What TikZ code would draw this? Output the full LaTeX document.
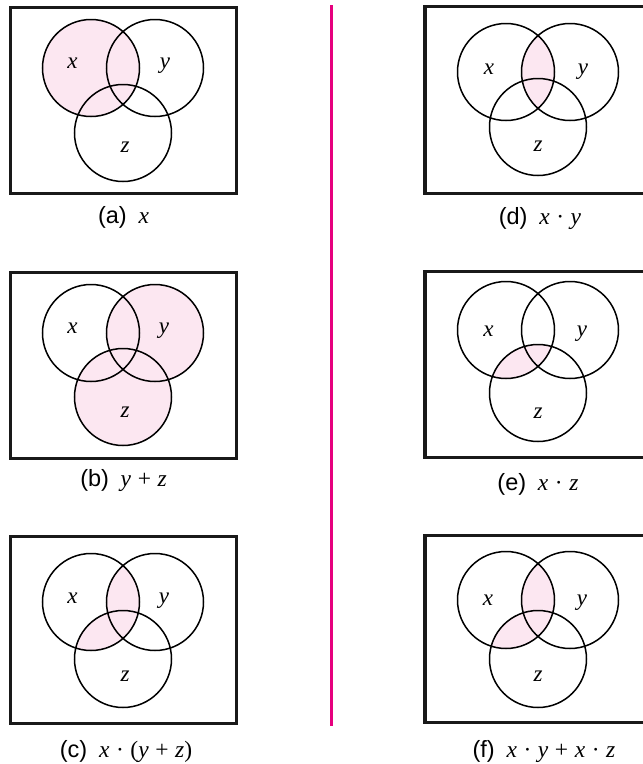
\documentclass[tikz,border=0pt]{standalone}
\usepackage{fontspec}
\usepackage{xcolor}
\usetikzlibrary{positioning}
\newfontfamily\capfont{Liberation Sans}
\newfontfamily\varfont{Liberation Serif}
\definecolor{shadepink}{RGB}{252,231,241}
\definecolor{divider}{RGB}{230,0,126}
\newcommand{\vr}[1]{{\varfont\itshape #1}}
\newcommand{\op}[1]{\hspace{0.28em}{\varfont #1}\hspace{0.28em}}
\tikzset{
  frame/.style={draw=black!90, line width=3.2pt},
  ring/.style={draw=black, line width=1.5pt},
  region/.style={fill=shadepink},
  setlabel/.style={font=\fontsize{23}{23}\selectfont, anchor=base, inner sep=0pt},
  caption/.style={font=\fontsize{23.5}{24}\selectfont\capfont, anchor=base, inner sep=0pt}
}

\begin{document}
\begin{tikzpicture}[x=1pt,y=-1pt]
\useasboundingbox (0,0) rectangle (643,764);

% (a) x
\coordinate (ax) at (91,68);
\coordinate (ay) at (155,68);
\coordinate (az) at (123,133);
\draw[frame] (10.5,7.5) rectangle (236.5,193.5);
\fill[region] (ax) circle[radius=48.5];
\draw[ring] (ax) circle[radius=48.5] (ay) circle[radius=48.5] (az) circle[radius=48.5];
\node[setlabel] (axl) at (72.5,68) {\vr{x}};
\node[setlabel] (ayl) at (165,68) {\vr{y}};
\node[setlabel] (azl) at (125,152) {\vr{z}};
\node[caption] (capa) at (123.5,223) {(a)\hspace{0.5em}\vr{x}};

% (b) y + z
\coordinate (bx) at (91,333);
\coordinate (by) at (155,333);
\coordinate (bz) at (123,397);
\draw[frame] (10.5,272.5) rectangle (236.5,458.5);
\fill[region] (by) circle[radius=48.5] (bz) circle[radius=48.5];
\draw[ring] (bx) circle[radius=48.5] (by) circle[radius=48.5] (bz) circle[radius=48.5];
\node[setlabel] (bxl) at (72.5,333) {\vr{x}};
\node[setlabel] (byl) at (164,333) {\vr{y}};
\node[setlabel] (bzl) at (125,417) {\vr{z}};
\node[caption] (capb) at (123.5,486) {(b)\hspace{0.5em}\vr{y}\op{+}\vr{z}};

% (c) x . (y + z)
\coordinate (cx) at (91,602);
\coordinate (cy) at (155,602);
\coordinate (cz) at (123,659);
\draw[frame] (10.5,536.5) rectangle (236.5,723.5);
\begin{scope}
\clip (cx) circle[radius=48.5];
\fill[region] (cy) circle[radius=48.5] (cz) circle[radius=48.5];
\end{scope}
\draw[ring] (cx) circle[radius=48.5] (cy) circle[radius=48.5] (cz) circle[radius=48.5];
\node[setlabel] (cxl) at (72.5,603) {\vr{x}};
\node[setlabel] (cyl) at (164,603) {\vr{y}};
\node[setlabel] (czl) at (125,681) {\vr{z}};
\node[caption] (capc) at (126,757) {(c)\hspace{0.5em}\vr{x}\op{·}{\varfont(}\vr{y}\op{+}\vr{z}{\varfont)}};

% divider
\draw[divider, line width=3pt] (331,5) -- (331,726);

% (d) x . y
\coordinate (dx) at (506,72);
\coordinate (dy) at (570,72);
\coordinate (dz) at (538,127);
\draw[frame] (425,6.5) rectangle (651,193.5);
\begin{scope}
\clip (dx) circle[radius=48.5];
\fill[region] (dy) circle[radius=48.5];
\end{scope}
\draw[ring] (dx) circle[radius=48.5] (dy) circle[radius=48.5] (dz) circle[radius=48.5];
\node[setlabel] (dxl) at (489,74) {\vr{x}};
\node[setlabel] (dyl) at (583,74) {\vr{y}};
\node[setlabel] (dzl) at (538,151) {\vr{z}};
\node[caption] (capd) at (540,224) {(d)\hspace{0.5em}\vr{x}\op{·}\vr{y}};

% (e) x . z
\coordinate (ex) at (506,330);
\coordinate (ey) at (570,330);
\coordinate (ez) at (538,393);
\draw[frame] (425,271.5) rectangle (651,457.5);
\begin{scope}
\clip (ex) circle[radius=48.5];
\fill[region] (ez) circle[radius=48.5];
\end{scope}
\draw[ring] (ex) circle[radius=48.5] (ey) circle[radius=48.5] (ez) circle[radius=48.5];
\node[setlabel] (exl) at (488.5,336) {\vr{x}};
\node[setlabel] (eyl) at (582,336) {\vr{y}};
\node[setlabel] (ezl) at (538,418) {\vr{z}};
\node[caption] (cape) at (538,490) {(e)\hspace{0.5em}\vr{x}\op{·}\vr{z}};

% (f) x . y + x . z
\coordinate (fx) at (506,600);
\coordinate (fy) at (570,600);
\coordinate (fz) at (538,659);
\draw[frame] (425,535.5) rectangle (651,722.5);
\begin{scope}
\clip (fx) circle[radius=48.5];
\fill[region] (fy) circle[radius=48.5] (fz) circle[radius=48.5];
\end{scope}
\draw[ring] (fx) circle[radius=48.5] (fy) circle[radius=48.5] (fz) circle[radius=48.5];
\node[setlabel] (fxl) at (488,605) {\vr{x}};
\node[setlabel] (fyl) at (582,605) {\vr{y}};
\node[setlabel] (fzl) at (538,681) {\vr{z}};
\node[caption] (capf) at (544,757.5) {(f)\hspace{0.5em}\vr{x}\op{·}\vr{y}\op{+}\vr{x}\op{·}\vr{z}};
\end{tikzpicture}
\end{document}
